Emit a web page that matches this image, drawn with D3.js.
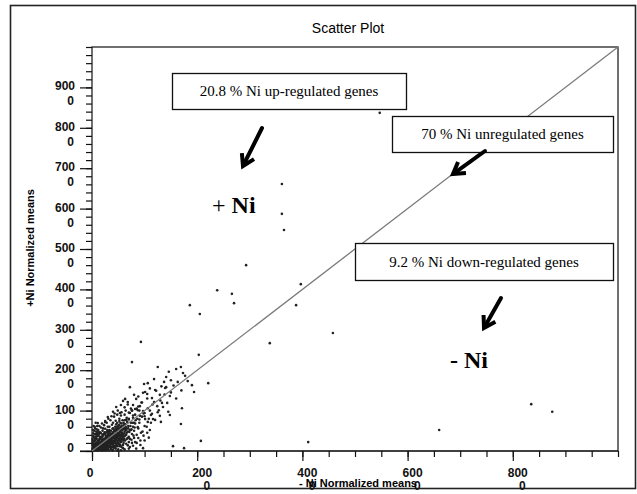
<!DOCTYPE html>
<html>
<head>
<meta charset="utf-8">
<script src="https://cdn.jsdelivr.net/npm/d3@7"></script>
<style>
  body { margin: 0; background: #fff; }
  svg { display: block; }
</style>
</head>
<body>
<div id="chart"></div>
<script>
// tick labels (values are shown as e.g. "900" over "0" = 9000)
const xTickLabels = [0, 2000, 4000, 6000, 8000];
const yTickLabels = [0, 1000, 2000, 3000, 4000, 5000, 6000, 7000, 8000, 9000];

// scattered genes [-Ni, +Ni]
const outlierPoints = [
  [5840, 8760], [5470, 8370], [3610, 6610], [3610, 5870], [3650, 5470],
  [2930, 4600], [3970, 4130], [2380, 3980], [2660, 3890], [2700, 3660],
  [3880, 3610], [1860, 3610], [2050, 3390], [3380, 2670], [930, 2700],
  [760, 2200], [2030, 2380], [4580, 2920], [1820, 1730], [1900, 1630],
  [2210, 1680], [1940, 1460], [1710, 1060], [1690, 670], [2070, 250],
  [1750, 70], [1540, 120], [4110, 220], [8350, 1160], [8750, 970], [6600, 520]
];

// the spread of genes between ~500 and ~2000
const midPoints = [
  [1250, 2080], [1460, 1960], [1600, 2030], [1690, 2080], [1730, 1930],
  [1410, 1830], [1180, 1780], [1770, 1860], [1630, 1710], [1370, 1710],
  [990, 1660], [720, 1580], [1390, 1560], [1480, 1360], [1220, 1490],
  [1010, 1460], [1050, 1410], [800, 1390], [630, 1290], [590, 1240],
  [840, 1290], [1140, 1310], [1180, 1210], [1330, 1190], [1430, 1190],
  [1350, 1090], [1270, 1010], [1450, 970], [1480, 890], [1240, 1110],
  [1060, 1060], [910, 1110], [970, 990], [820, 1040], [720, 940],
  [1140, 920], [1290, 870], [910, 870], [780, 820], [1010, 790],
  [1160, 790], [1060, 1680], [970, 1440], [1290, 1390], [1200, 1510],
  [1410, 1580], [680, 1210], [780, 1140], [550, 1140], [460, 1090],
  [400, 970], [530, 940], [870, 1010], [980, 930], [1120, 890],
  [1250, 960], [1310, 720], [1200, 770], [1060, 720], [650, 770],
  [300, 840], [250, 720], [110, 690], [150, 450], [870, 590],
  [740, 520], [630, 570], [930, 450], [680, 320], [820, 220],
  [550, 220], [360, 270], [300, 400], [720, 100], [970, 70], [590, 70],
  [800, 700], [900, 780], [1000, 860], [1100, 1000], [1150, 1150],
  [950, 1200], [1050, 1300], [850, 1050], [1300, 1250], [1380, 1400],
  [1500, 1450], [1550, 1620], [1600, 1300], [1700, 1500], [1320, 1600],
  [1500, 1750], [1100, 1550], [880, 1350], [760, 1000], [700, 800]
];

// dense cloud near the origin
const densePoints = [
  [40, 60], [60, 30], [80, 110], [100, 70], [120, 150], [130, 40], [150, 120],
  [160, 200], [170, 90], [190, 160], [200, 240], [210, 60], [220, 130], [240, 200],
  [250, 280], [260, 100], [270, 170], [280, 330], [290, 240], [300, 150], [310, 60],
  [320, 280], [330, 210], [340, 370], [350, 120], [360, 300], [370, 230], [380, 420],
  [390, 170], [400, 330], [410, 260], [420, 80], [430, 380], [440, 200], [450, 300],
  [460, 470], [470, 140], [480, 350], [490, 250], [500, 420], [510, 180], [520, 310],
  [530, 520], [540, 230], [550, 380], [560, 100], [570, 450], [580, 290], [590, 560],
  [600, 200], [610, 360], [620, 480], [630, 260], [640, 600], [650, 400], [40, 150],
  [70, 200], [90, 20], [110, 250], [140, 300], [180, 350], [20, 100], [30, 20],
  [50, 180], [60, 260], [90, 300], [100, 380], [130, 420], [150, 30], [180, 20],
  [230, 30], [270, 40], [320, 20], [360, 50], [400, 30], [450, 60], [500, 40],
  [200, 400], [240, 460], [260, 380], [300, 480], [330, 520], [350, 440], [390, 550],
  [420, 500], [440, 600], [470, 560], [510, 640], [540, 690], [480, 700], [560, 620],
  [600, 700], [620, 660], [660, 560], [680, 480], [700, 350], [690, 620], [720, 520],
  [740, 700], [760, 420], [780, 600], [700, 780], [660, 820], [800, 500], [820, 680],
  [580, 760], [520, 800], [450, 750], [380, 650], [300, 600], [250, 550], [200, 500],
  [150, 460], [120, 520], [170, 580], [230, 640], [280, 700], [350, 760], [420, 850],
  [260, 10], [340, 100], [380, 90], [440, 130], [520, 120], [590, 150], [650, 180],
  [700, 220], [750, 280], [800, 320], [850, 400], [880, 560], [900, 700], [860, 800],
  [780, 880], [700, 950], [620, 900], [550, 880], [480, 900], [640, 1000], [740, 1050],
  [900, 1000], [950, 850], [1000, 620], [1050, 450], [980, 380], [920, 260], [850, 200],
  [780, 130], [700, 60], [620, 40], [550, 20], [480, 10], [30, 350], [60, 420],
  [80, 480], [20, 520], [50, 600], [10, 300], [15, 200], [25, 440], [100, 620], [70, 700],
  [20, 40], [35, 70], [45, 30], [55, 90], [65, 50], [75, 140], [85, 60], [95, 120],
  [105, 170], [115, 90], [125, 60], [135, 190], [145, 140], [155, 80], [165, 230],
  [175, 150], [185, 110], [195, 270], [205, 190], [215, 140], [225, 300], [235, 230],
  [245, 160], [255, 320], [265, 250], [275, 120], [285, 360], [295, 280], [305, 210],
  [315, 400], [325, 330], [335, 250], [345, 180], [355, 410], [365, 350], [375, 280],
  [385, 200], [395, 460], [405, 390], [415, 320], [425, 240], [435, 500], [445, 420],
  [455, 350], [465, 270], [475, 520], [485, 450], [495, 380], [505, 300], [515, 560],
  [525, 470], [535, 400], [545, 330], [555, 590], [565, 510], [575, 420], [585, 350],
  [595, 630], [605, 540], [615, 440], [625, 380], [635, 660], [645, 520], [660, 450],
  [670, 720], [690, 560], [710, 470], [730, 620], [750, 540], [770, 700], [790, 380],
  [810, 580], [830, 760], [150, 350], [220, 420], [190, 70], [280, 80], [350, 200],
  [410, 140], [460, 180], [530, 160], [600, 260], [660, 300], [720, 300], [80, 330],
  [120, 380], [170, 440], [210, 560], [290, 520], [330, 600], [400, 700], [460, 660],
  [520, 740], [560, 680], [620, 760], [70, 20], [110, 10], [200, 10], [300, 30],
  [390, 10], [10, 60], [10, 150], [10, 250], [25, 380], [40, 500], [60, 560], [30, 620],
  [90, 540], [140, 620], [190, 680], [250, 740], [310, 800], [370, 860], [430, 930],
  [490, 1000], [560, 960], [620, 1080], [680, 1150], [760, 1000], [820, 900], [880, 1100],
  [940, 1200], [1000, 940], [1080, 800], [1120, 700], [1040, 600], [1100, 520], [960, 480],
  [880, 320], [920, 150], [1000, 260], [1080, 330], [840, 60], [760, 200], [680, 140],
  [15, 15], [25, 55], [35, 10], [45, 75], [55, 40], [65, 110], [75, 80], [85, 35],
  [95, 160], [105, 100], [115, 50], [125, 130], [135, 80], [145, 210], [155, 170],
  [165, 120], [175, 60], [185, 250], [195, 210], [205, 150], [215, 100], [225, 260],
  [235, 180], [245, 120], [255, 60], [265, 300], [275, 220], [285, 170], [295, 90],
  [305, 330], [315, 260], [325, 190], [335, 130], [345, 300], [355, 260], [365, 160],
  [375, 380], [385, 320], [395, 240], [405, 190], [415, 440], [425, 350], [435, 280],
  [445, 230], [455, 480], [465, 400], [475, 320], [485, 200], [495, 520], [505, 440],
  [515, 360], [525, 270], [535, 580], [545, 460], [555, 300], [565, 560], [575, 520],
  [585, 400], [20, 180], [35, 240], [50, 300], [65, 340], [80, 400], [95, 440],
  [110, 470], [40, 130], [70, 160], [100, 220], [130, 260], [160, 300], [190, 330],
  [210, 380], [250, 420], [270, 460], [310, 440], [330, 480], [360, 500], [400, 560],
  [440, 540], [480, 600], [500, 620], [400, 100], [440, 90], [480, 120], [540, 140],
  [500, 200], [560, 250], [610, 300], [230, 80], [300, 110], [160, 50], [120, 20]
];

const allPoints = outlierPoints.concat(midPoints, densePoints);

const W = 637, H = 494;
const margin = {top: 47, left: 92};
const width = 526, height = 404;

const svg = d3.select("#chart")
  .append("svg")
    .attr("width", W)
    .attr("height", H);

// outer frame
svg.append("rect")
  .attr("x", 10.5).attr("y", 5.5)
  .attr("width", 625).attr("height", 483)
  .attr("fill", "none").attr("stroke", "#222").attr("stroke-width", 1.6);

svg.append("text")
  .attr("x", 348).attr("y", 33)
  .attr("text-anchor", "middle")
  .style("font-family", "Liberation Sans, Arial, sans-serif")
  .style("font-size", "14px")
  .text("Scatter Plot");

const g = svg.append("g")
  .attr("transform", `translate(${margin.left},${margin.top})`);

const x = d3.scaleLinear().domain([0, 10000]).range([0, width]);
const y = d3.scaleLinear().domain([0, 10000]).range([height, 0]);

// plot frame
g.append("rect")
  .attr("width", width).attr("height", height)
  .attr("fill", "none").attr("stroke", "#111").attr("stroke-width", 1.2);

// minor + major ticks
function styleAxis(sel) {
  sel.select(".domain").remove();
  sel.selectAll("line").attr("stroke", "#111").attr("stroke-width", 1.2);
}
g.append("g")
  .call(d3.axisLeft(y).tickValues(d3.range(0, 10001, 200)).tickSize(6).tickFormat(""))
  .call(styleAxis);
g.append("g")
  .call(d3.axisLeft(y).tickValues(yTickLabels).tickSize(12).tickFormat(""))
  .call(styleAxis);
g.append("g")
  .attr("transform", `translate(0,${height})`)
  .call(d3.axisBottom(x).tickValues(d3.range(0, 10001, 500)).tickSize(6).tickFormat(""))
  .call(styleAxis);
g.append("g")
  .attr("transform", `translate(0,${height})`)
  .call(d3.axisBottom(x).tickValues(xTickLabels).tickSize(10).tickFormat(""))
  .call(styleAxis);
// axis line extending under the 0 tick
g.append("line")
  .attr("x1", -12).attr("x2", width)
  .attr("y1", height).attr("y2", height)
  .attr("stroke", "#111").attr("stroke-width", 1.2);

const tickFont = "Liberation Sans, Arial, sans-serif";

// y tick labels, wrapped: "900" / "0"
const yl = g.append("g").selectAll("text")
  .data(yTickLabels)
  .join("text")
    .attr("text-anchor", "end")
    .style("font-family", tickFont)
    .style("font-size", "12px")
    .style("font-weight", "bold")
    .style("fill", "#111");
yl.each(function(d) {
  const t = d3.select(this);
  if (d === 0) {
    t.append("tspan").attr("x", -18).attr("y", y(d) + 1).text("0");
  } else {
    t.append("tspan").attr("x", -17).attr("y", y(d) + 3).text(String(d / 10));
    t.append("tspan").attr("x", -18).attr("y", y(d) + 18).text("0");
  }
});

// x tick labels
const xl = g.append("g").selectAll("text")
  .data(xTickLabels)
  .join("text")
    .style("font-family", tickFont)
    .style("font-size", "12px")
    .style("font-weight", "bold")
    .style("fill", "#111");
xl.each(function(d) {
  const t = d3.select(this);
  if (d === 0) {
    t.attr("text-anchor", "middle")
      .append("tspan").attr("x", x(d) - 2).attr("y", height + 26).text("0");
  } else {
    t.attr("text-anchor", "end");
    t.append("tspan").attr("x", x(d) + 15).attr("y", height + 26).text(String(d / 10));
    t.append("tspan").attr("x", x(d) + 13).attr("y", height + 39).text("0");
  }
});

// axis titles
svg.append("text")
  .attr("x", 358).attr("y", 487)
  .attr("text-anchor", "middle")
  .style("font-family", tickFont)
  .style("font-size", "11px")
  .style("font-weight", "bold")
  .text("- Ni Normalized means");

svg.append("text")
  .attr("transform", "translate(34,248) rotate(-90)")
  .attr("text-anchor", "middle")
  .style("font-family", tickFont)
  .style("font-size", "11px")
  .style("font-weight", "bold")
  .text("+Ni Normalized means");

// dots
g.append("g")
  .selectAll("circle")
  .data(allPoints)
  .join("circle")
    .attr("cx", d => x(d[0]))
    .attr("cy", d => y(d[1]))
    .attr("r", 1.3)
    .attr("fill", "#222");

// y = x reference line
g.append("line")
  .attr("x1", x(0)).attr("y1", y(0))
  .attr("x2", x(10000)).attr("y2", y(10000))
  .attr("stroke", "#7a7a7a").attr("stroke-width", 1.3);

// annotation boxes (pixel positions inside the page)
const boxes = [
  {x: 172, y: 73, w: 234, h: 36, text: "20.8 % Ni up-regulated genes"},
  {x: 392, y: 116, w: 221, h: 36, text: "70 % Ni unregulated genes"},
  {x: 355, y: 243, w: 258, h: 37, text: "9.2 % Ni down-regulated genes"}
];
const serif = "Liberation Serif, Times New Roman, serif";
boxes.forEach(b => {
  svg.append("rect")
    .attr("x", b.x + 0.5).attr("y", b.y + 0.5)
    .attr("width", b.w).attr("height", b.h)
    .attr("fill", "#fff").attr("stroke", "#111").attr("stroke-width", 1.3);
  svg.append("text")
    .attr("x", b.x + b.w / 2).attr("y", b.y + b.h / 2 + 5)
    .attr("text-anchor", "middle")
    .style("font-family", serif)
    .style("font-size", "15px")
    .text(b.text);
});

// thick arrows
const arrows = [
  {x1: 262, y1: 128, x2: 243, y2: 166},
  {x1: 485, y1: 151, x2: 453, y2: 174},
  {x1: 501, y1: 298, x2: 484, y2: 328}
];
arrows.forEach(a => {
  const ang = Math.atan2(a.y2 - a.y1, a.x2 - a.x1);
  const len = 13, spread = 0.55;
  const p1 = [a.x2 - len * Math.cos(ang - spread), a.y2 - len * Math.sin(ang - spread)];
  const p2 = [a.x2 - len * Math.cos(ang + spread), a.y2 - len * Math.sin(ang + spread)];
  svg.append("line")
    .attr("x1", a.x1).attr("y1", a.y1)
    .attr("x2", a.x2 - 2 * Math.cos(ang)).attr("y2", a.y2 - 2 * Math.sin(ang))
    .attr("stroke", "#000").attr("stroke-width", 4).attr("stroke-linecap", "round");
  svg.append("path")
    .attr("d", `M${p1[0]},${p1[1]} L${a.x2},${a.y2} L${p2[0]},${p2[1]}`)
    .attr("fill", "none").attr("stroke", "#000").attr("stroke-width", 4)
    .attr("stroke-linejoin", "miter");
});

// region labels
const plusNi = svg.append("text")
  .attr("x", 212).attr("y", 213)
  .style("font-family", serif)
  .style("font-size", "24px");
plusNi.append("tspan").text("+ ");
plusNi.append("tspan").style("font-weight", "bold").text("Ni");

svg.append("text")
  .attr("x", 450).attr("y", 368)
  .style("font-family", serif)
  .style("font-size", "24px")
  .style("font-weight", "bold")
  .text("- Ni");
</script>
</body>
</html>
